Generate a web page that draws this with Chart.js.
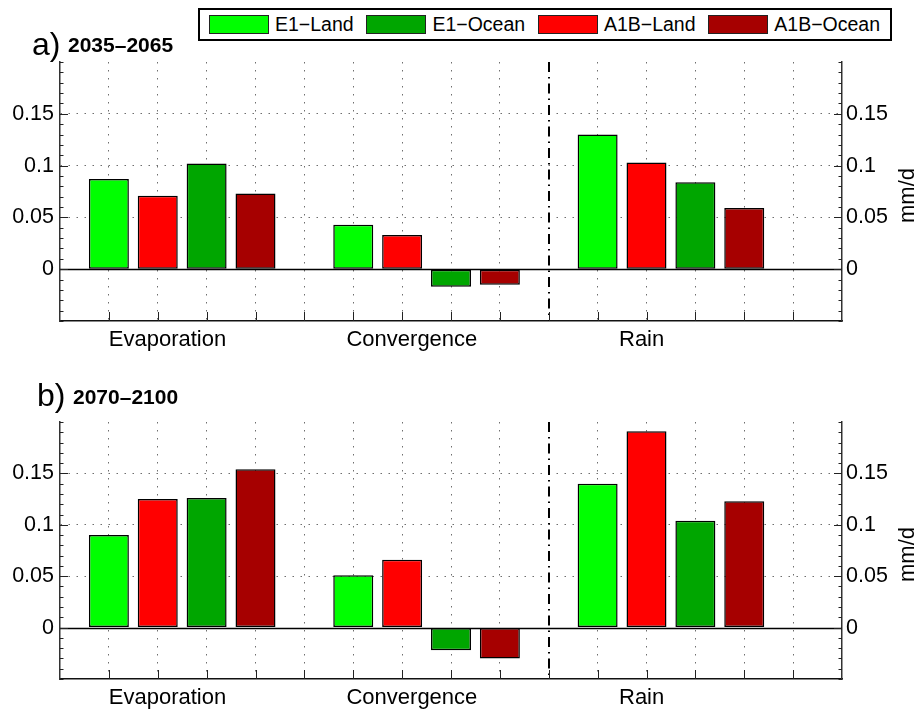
<!DOCTYPE html>
<html>
<head>
<meta charset="utf-8">
<script src="https://cdn.jsdelivr.net/npm/chart.js@4.4.0/dist/chart.umd.min.js"></script>
<style>
  html, body { margin: 0; padding: 0; background: #fff; }
  #page { position: relative; width: 914px; height: 710px; overflow: hidden;
          font-family: "Liberation Sans", Arial, Helvetica, sans-serif; }
  .panel { position: absolute; left: 0; width: 914px; }
  .panel canvas { display: block; }
  #legend { position: absolute; left: 198px; top: 8px; width: 694px; height: 33px;
            box-sizing: border-box; border: 2px solid #000; background: #fff;
            display: flex; align-items: center; padding-left: 9px; font-size: 19.5px; z-index: 2; }
  .item { display: flex; align-items: center; margin-right: 12.8px; white-space: nowrap; }
  .sw { width: 60px; height: 19px; box-sizing: border-box; border: 1px solid #222; margin-right: 6px; }
</style>
</head>
<body>
<div id="page">
  <div class="panel" style="top:0;height:360px"><canvas id="cA" width="914" height="360"></canvas></div>
  <div class="panel" style="top:360px;height:350px"><canvas id="cB" width="914" height="350"></canvas></div>
  <div id="legend"></div>
</div>
<script>
const FONT = '"Liberation Sans", Arial, Helvetica, sans-serif';
Chart.defaults.font.family = FONT;
Chart.defaults.color = '#000';

// Budget terms and where their labels sit on the slot axis
const groups = ['Evaporation', 'Convergence', 'Rain'];
const groupLabelAt = [2.2, 7.2, 11.9];
const groupStart = [1, 6, 11];      // first bar slot of each term
const dividerAt = 10;               // dash-dot separator before Rain

// Scenario / surface series
const seriesNames = ['E1\u2212Land', 'E1\u2212Ocean', 'A1B\u2212Land', 'A1B\u2212Ocean'];
const seriesColors = ['#00FF00', '#00A600', '#FF0000', '#A60000'];
const seriesSlot = [0, 2, 1, 3];    // order of bars inside a group

// Value axis (mm/d)
const yMin = -0.05, yMax = 0.2;
const yTicks = [0, 0.05, 0.1, 0.15];

// 2035–2065 changes, mm/d  (Evaporation, Convergence, Rain)
const e1Land2035   = [0.087, 0.043, 0.130];
const e1Ocean2035  = [0.102, -0.017, 0.084];
const a1bLand2035  = [0.071, 0.033, 0.103];
const a1bOcean2035 = [0.073, -0.015, 0.059];

// 2070–2100 changes, mm/d
const e1Land2070   = [0.090, 0.051, 0.140];
const e1Ocean2070  = [0.126, -0.022, 0.104];
const a1bLand2070  = [0.125, 0.066, 0.191];
const a1bOcean2070 = [0.154, -0.030, 0.123];

// Legend
const legendEl = document.getElementById('legend');
seriesNames.forEach((name, s) => {
  const it = document.createElement('div');
  it.className = 'item';
  const sw = document.createElement('div');
  sw.className = 'sw';
  sw.style.background = seriesColors[s];
  const tx = document.createElement('span');
  tx.textContent = name;
  it.appendChild(sw); it.appendChild(tx);
  legendEl.appendChild(it);
});

function fmtTick(v) {
  if (Math.abs(v) < 1e-9) return '0';
  return String(+v.toFixed(2));
}

const GRID = '#6e6e6e';
const CLEAR = 'rgba(0,0,0,0)';

// Axis furniture: inward ticks, separator, zero line, panel titles, unit label
const decor = {
  id: 'decor',
  beforeDatasetsDraw(chart, args, o) {
    const { ctx, chartArea: a, scales: { x } } = chart;
    const xd = Math.round(x.getPixelForValue(dividerAt));
    ctx.save();
    ctx.strokeStyle = '#000';
    ctx.lineWidth = 2;
    ctx.setLineDash([10, 5, 1.5, 5]);
    ctx.beginPath();
    ctx.moveTo(xd, a.top);
    ctx.lineTo(xd, a.bottom);
    ctx.stroke();
    ctx.restore();
  },
  afterDatasetsDraw(chart, args, o) {
    const { ctx, chartArea: a, scales: { x, y } } = chart;
    ctx.save();
    // zero line
    const y0 = Math.round(y.getPixelForValue(0)) + 0.5;
    ctx.strokeStyle = '#000';
    ctx.lineWidth = 1.5;
    ctx.beginPath();
    ctx.moveTo(a.left, y0);
    ctx.lineTo(a.right, y0);
    ctx.stroke();
    // inward tick marks
    ctx.strokeStyle = '#222';
    ctx.lineWidth = 1;
    ctx.beginPath();
    for (let i = 1; i <= 15; i++) {
      const px = Math.round(x.getPixelForValue(i)) + 0.5;
      ctx.moveTo(px, a.bottom);
      ctx.lineTo(px, a.bottom - 9);
    }
    for (let k = -5; k <= 20; k++) {
      const v = k / 100;
      const py = Math.round(y.getPixelForValue(v)) + 0.5;
      const major = yTicks.some(t => Math.abs(t - v) < 1e-9);
      const len = major ? 8 : 3.5;
      ctx.moveTo(a.left, py); ctx.lineTo(a.left + len, py);
      ctx.moveTo(a.right, py); ctx.lineTo(a.right - len, py);
    }
    ctx.stroke();
    ctx.restore();
  },
  afterDraw(chart, args, o) {
    const { ctx, chartArea: a } = chart;
    ctx.save();
    ctx.fillStyle = '#000';
    ctx.textBaseline = 'alphabetic';
    ctx.textAlign = 'left';
    ctx.font = '32px ' + FONT;
    ctx.fillText(o.tag, o.tagX, o.tagY);
    ctx.font = 'bold 21px ' + FONT;
    ctx.fillText(o.period, o.periodX, o.periodY);
    ctx.translate(o.unitX, (a.top + a.bottom) / 2 + 4);
    ctx.rotate(-Math.PI / 2);
    ctx.textAlign = 'center';
    ctx.font = '22px ' + FONT;
    ctx.fillText('mm/d', 0, 0);
    ctx.restore();
  }
};

function buildDatasets(vals) {
  return seriesNames.map((name, s) => ({
    label: name,
    data: groups.map((g, i) => ({ x: groupStart[i] + seriesSlot[s], y: vals[s][i] })),
    backgroundColor: seriesColors[s],
    borderColor: '#000',
    borderWidth: 1.5,
    borderSkipped: false,
    grouped: false,
    categoryPercentage: 1,
    barPercentage: 0.818,
    xAxisID: 'x',
    yAxisID: 'y'
  }));
}

function makePanel(id, vals, bottomH, titleOpts) {
  const yTickBuilder = s => { s.ticks = yTicks.map(v => ({ value: v })); };
  return new Chart(document.getElementById(id), {
    type: 'bar',
    data: { datasets: buildDatasets(vals) },
    options: {
      responsive: false,
      animation: false,
      events: [],
      layout: { padding: { top: 62, left: 0, right: 0, bottom: 0 } },
      plugins: { legend: { display: false }, tooltip: { enabled: false }, decor: titleOpts },
      scales: {
        x: {
          type: 'linear', axis: 'x', position: 'bottom', weight: 0,
          min: 0, max: 16, offset: false,
          afterBuildTicks: s => { s.ticks = Array.from({ length: 17 }, (_, i) => ({ value: i })); },
          ticks: { display: false },
          grid: {
            offset: false, drawTicks: false, lineWidth: 1,
            color: c => (c.tick && c.tick.value > 0 && c.tick.value < 16 && c.tick.value !== dividerAt) ? GRID : CLEAR
          },
          border: { display: true, color: '#111', width: 1.5, dash: [1.5, 6.5] },
          afterFit: s => { s.height = 0; }
        },
        xl: {
          type: 'linear', axis: 'x', position: 'bottom', weight: 1,
          min: 0, max: 16, offset: false,
          afterBuildTicks: s => { s.ticks = groupLabelAt.map(v => ({ value: v })); },
          ticks: { autoSkip: false, maxRotation: 0, minRotation: 0, padding: 6,
                   font: { size: 22 }, callback: (v, i) => groups[i] },
          grid: { display: false, drawTicks: false, offset: false },
          border: { display: false },
          afterFit: s => { s.height = bottomH; }
        },
        y: {
          type: 'linear', axis: 'y', position: 'left',
          min: yMin, max: yMax,
          afterBuildTicks: yTickBuilder,
          ticks: { padding: 6, font: { size: 21.5 }, callback: fmtTick },
          grid: { drawTicks: false, lineWidth: 1,
                  color: c => (c.tick && Math.abs(c.tick.value) > 1e-9) ? GRID : CLEAR },
          border: { display: true, color: '#333', width: 1.5, dash: [1.5, 6.5] },
          afterFit: s => { s.width = 60; }
        },
        y2: {
          type: 'linear', axis: 'y', position: 'right',
          min: yMin, max: yMax,
          afterBuildTicks: yTickBuilder,
          ticks: { padding: 4, font: { size: 21.5 }, callback: fmtTick },
          grid: { display: false, drawTicks: false },
          border: { display: true, color: '#333', width: 1.5 },
          afterFit: s => { s.width = 72; }
        }
      }
    },
    plugins: [decor]
  });
}

makePanel('cA', [e1Land2035, e1Ocean2035, a1bLand2035, a1bOcean2035], 39,
  { tag: 'a)', tagX: 32, tagY: 55, period: '2035\u20132065', periodX: 68, periodY: 52, unitX: 914 });
makePanel('cB', [e1Land2070, e1Ocean2070, a1bLand2070, a1bOcean2070], 31,
  { tag: 'b)', tagX: 37, tagY: 46, period: '2070\u20132100', periodX: 73, periodY: 44, unitX: 914 });
</script>
</body>
</html>
